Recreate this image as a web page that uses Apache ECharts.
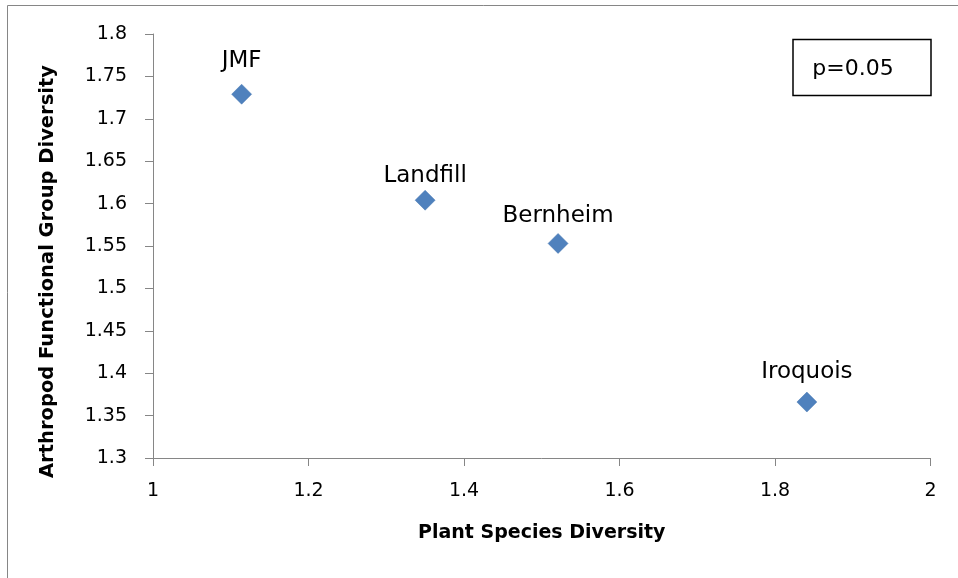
<!DOCTYPE html>
<html>
<head>
<meta charset="utf-8">
<script src="https://cdn.jsdelivr.net/npm/echarts@6/dist/echarts.min.js"></script>
<style>
  html, body { margin: 0; padding: 0; background: #fff; }
  #chart { width: 958px; height: 578px; }
</style>
</head>
<body>
<div id="chart"></div>
<script>
const sites = ['JMF', 'Landfill', 'Bernheim', 'Iroquois'];
const plantDiversity = [1.114, 1.350, 1.521, 1.841];
const arthropodDiversity = [1.729, 1.604, 1.553, 1.366];
const xTicks = [1, 1.2, 1.4, 1.6, 1.8, 2];
const yTicks = [1.3, 1.35, 1.4, 1.45, 1.5, 1.55, 1.6, 1.65, 1.7, 1.75, 1.8];
// labels were nudged by hand in the original, so keep their gaps
const labelGap = [11, 2, 6, 8];

const chart = echarts.init(document.getElementById('chart'));
const font = '"DejaVu Sans", sans-serif';
const axisGray = '#868686';

chart.setOption({
  animation: false,
  grid: { left: 153, right: 27.5, top: 34, bottom: 120 },
  xAxis: {
    type: 'value',
    min: xTicks[0],
    max: xTicks[xTicks.length - 1],
    interval: 0.2,
    name: 'Plant Species Diversity',
    nameLocation: 'middle',
    nameGap: 66,
    nameTextStyle: { fontFamily: font, fontSize: 19, fontWeight: 'bold', color: '#000' },
    axisLine: { show: true, lineStyle: { color: axisGray, width: 1 } },
    axisTick: { show: true, inside: false, length: 8, lineStyle: { color: axisGray } },
    splitLine: { show: false },
    axisLabel: {
      fontFamily: font, fontSize: 19, color: '#000', margin: 24,
      formatter: v => String(Math.round(v * 10) / 10)
    }
  },
  yAxis: {
    type: 'value',
    min: yTicks[0],
    max: yTicks[yTicks.length - 1],
    interval: 0.05,
    axisLine: { show: true, lineStyle: { color: axisGray, width: 1 } },
    axisTick: { show: true, inside: false, length: 8, lineStyle: { color: axisGray } },
    splitLine: { show: false },
    axisLabel: {
      fontFamily: font, fontSize: 19, color: '#000', margin: 26,
      formatter: v => String(Math.round(v * 100) / 100)
    }
  },
  series: [{
    type: 'scatter',
    symbol: 'diamond',
    symbolSize: 20,
    itemStyle: { color: '#4F81BD', borderColor: '#4677B0', borderWidth: 0.5, opacity: 1 },
    label: {
      show: true,
      position: 'top',
      fontFamily: font,
      fontSize: 23,
      color: '#000',
      formatter: p => sites[p.dataIndex]
    },
    data: plantDiversity.map((x, i) => ({
      value: [x, arthropodDiversity[i]],
      label: { distance: labelGap[i] }
    }))
  }],
  graphic: [
    {
      type: 'rect',
      shape: { x: 7.5, y: 5.5, width: 1000, height: 1000 },
      style: { fill: null, stroke: axisGray, lineWidth: 1 },
      silent: true
    },
    {
      type: 'text',
      x: 48,
      y: 271.5,
      rotation: Math.PI / 2,
      style: {
        text: 'Arthropod Functional Group Diversity',
        fontFamily: font,
        fontSize: 19.5,
        fontWeight: 'bold',
        fill: '#000',
        align: 'center',
        verticalAlign: 'middle'
      }
    },
    {
      type: 'rect',
      shape: { x: 793, y: 39.5, width: 138, height: 56 },
      style: { fill: '#fff', stroke: '#000', lineWidth: 1.5 }
    },
    {
      type: 'text',
      x: 853,
      y: 69,
      style: {
        text: 'p=0.05',
        fontFamily: font,
        fontSize: 22,
        fill: '#000',
        align: 'center',
        verticalAlign: 'middle'
      }
    }
  ]
});
</script>
</body>
</html>
